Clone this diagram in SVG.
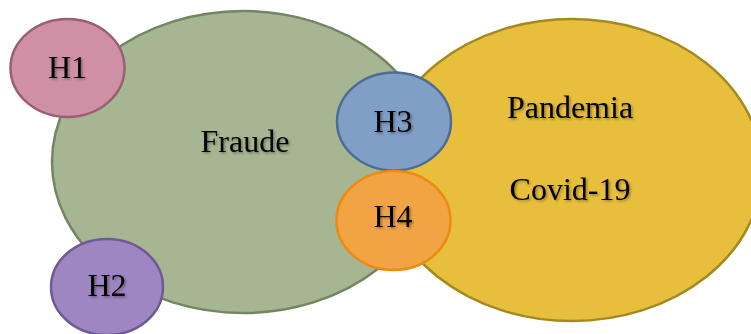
<svg xmlns="http://www.w3.org/2000/svg" width="751" height="334" viewBox="0 0 751 334">
<defs>
<filter id="sh" x="-20%" y="-20%" width="140%" height="140%">
<feDropShadow dx="1.5" dy="1.5" stdDeviation="1" flood-color="#000" flood-opacity="0.35"/>
</filter>
</defs>
<style>
text{font-family:"Liberation Serif","Times New Roman",serif;font-size:32px;fill:#000;text-anchor:middle;filter:url(#sh)}
ellipse{stroke-width:2.5}
</style>
<rect width="751" height="334" fill="#fff"/>
<g id="fraude">
<ellipse cx="243" cy="162" rx="191" ry="151" fill="#A6B693" stroke="#748563"/>
<text x="245" y="152">Fraude</text>
</g>
<g id="pandemia">
<ellipse cx="572" cy="170" rx="190" ry="151" fill="#E8BF3C" stroke="#A38A20"/>
<text x="570" y="118">Pandemia</text>
<text x="570" y="200">Covid-19</text>
</g>
<g id="connectors"></g>
<g id="h1">
<ellipse cx="67.5" cy="68" rx="57" ry="49" fill="#CF90A6" stroke="#9A5F74"/>
<text x="67.5" y="78">H1</text>
</g>
<g id="h2">
<ellipse cx="107" cy="287" rx="56" ry="48" fill="#9E86C2" stroke="#6F5A92"/>
<text x="107" y="296">H2</text>
</g>
<g id="h3">
<ellipse cx="394" cy="121.5" rx="57" ry="49" fill="#7F9FC7" stroke="#4F6D91"/>
<text x="393" y="131.5">H3</text>
</g>
<g id="h4">
<ellipse cx="393.5" cy="220.5" rx="57" ry="49.5" fill="#F2A444" stroke="#EC8A12"/>
<text x="393" y="227">H4</text>
</g>
</svg>
